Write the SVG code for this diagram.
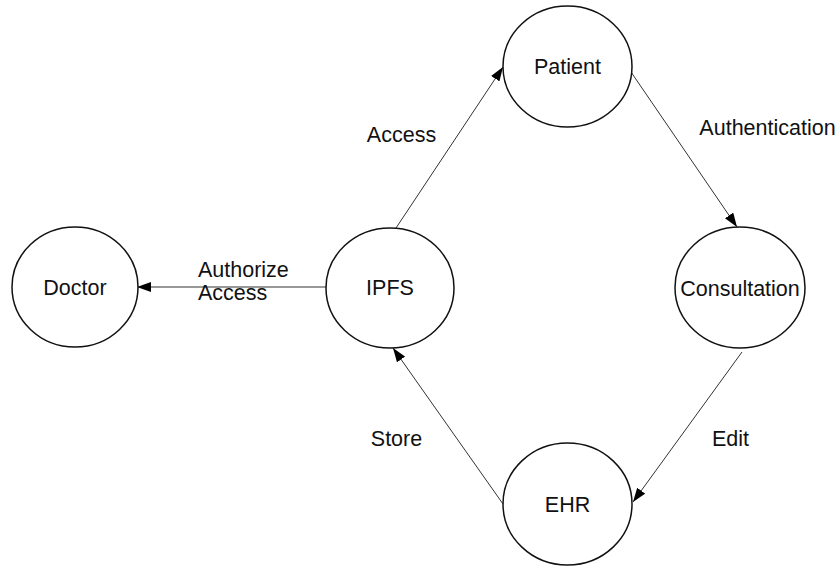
<svg xmlns="http://www.w3.org/2000/svg" width="840" height="566" viewBox="0 0 840 566">
<style>
.node ellipse{fill:#fff;stroke:#111;stroke-width:1.5}
text{font-family:"Liberation Sans",Arial,sans-serif;font-size:21.5px;fill:#111}
.c{text-anchor:middle}
.edge{stroke:#333;stroke-width:1;fill:none;marker-end:url(#arr)}
</style>
<defs>
<marker id="arr" viewBox="0 0 14 10" refX="14" refY="5" markerWidth="14" markerHeight="10" markerUnits="userSpaceOnUse" orient="auto">
<path d="M0,0 L14,5 L0,10 Z" fill="#000"/>
</marker>
</defs>
<rect width="840" height="566" fill="#fff"/>
<g id="connectors">
<line class="edge" x1="396" y1="228" x2="503" y2="67"/>
<line class="edge" x1="631" y1="72" x2="737" y2="227"/>
<line class="edge" x1="742" y1="352" x2="633" y2="502"/>
<line class="edge" x1="503" y1="504" x2="393" y2="348"/>
<line class="edge" x1="326" y1="287" x2="137" y2="287"/>
</g>
<g id="labels">
<text class="c" x="401.5" y="142">Access</text>
<text class="c" x="767.5" y="135">Authentication</text>
<text x="198" y="277">Authorize</text>
<text x="198" y="300">Access</text>
<text class="c" x="396.5" y="446">Store</text>
<text class="c" x="730.5" y="446">Edit</text>
</g>
<g id="patient" class="node"><ellipse cx="567.5" cy="66.5" rx="64.5" ry="60.5"/><text class="c" x="567.5" y="74">Patient</text></g>
<g id="doctor" class="node"><ellipse cx="75" cy="287" rx="63" ry="60"/><text class="c" x="75" y="295">Doctor</text></g>
<g id="ipfs" class="node"><ellipse cx="390" cy="288" rx="64" ry="60"/><text class="c" x="390" y="295">IPFS</text></g>
<g id="consultation" class="node"><ellipse cx="740" cy="287.5" rx="65" ry="60.5"/><text class="c" x="740" y="296">Consultation</text></g>
<g id="ehr" class="node"><ellipse cx="567.5" cy="504" rx="64.5" ry="61"/><text class="c" x="567.5" y="512">EHR</text></g>
</svg>
